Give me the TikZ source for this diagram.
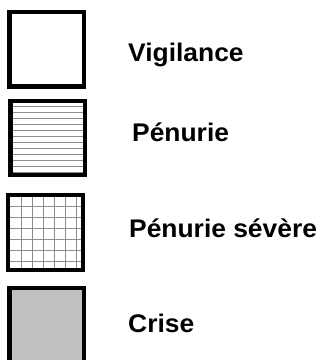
\documentclass[tikz,border=0pt]{standalone}
\usepackage{fontspec}
\setmainfont{Liberation Sans}
\usepackage{tikz}
\usetikzlibrary{positioning}

\begin{document}
\begin{tikzpicture}[
    x=1pt, y=-1pt,
    legbox/.style={draw, line width=4.3pt, minimum width=74.5pt, minimum height=74.5pt,
      inner sep=0pt, outer sep=0pt},
    legtext/.style={anchor=base west, inner sep=0pt, xscale=1.035,
      font=\fontsize{25.5}{30}\selectfont\bfseries},
    trait/.style={black!45, line width=0.9pt},
    rayure/.style={path picture={
        \foreach \k in {1,...,12}
          \draw[trait] ([yshift=-6*\k pt]path picture bounding box.north west)
            -- ([yshift=-6*\k pt]path picture bounding box.north east);}},
    quadrillage/.style={path picture={
        \foreach \k in {0,...,5} {
          \draw[trait] ([xshift=13.7pt+11*\k pt]path picture bounding box.north west)
            -- ([xshift=13.7pt+11*\k pt]path picture bounding box.south west);
          \draw[trait] ([yshift=-11.3pt-11*\k pt]path picture bounding box.north west)
            -- ([yshift=-11.3pt-11*\k pt]path picture bounding box.north east);}}},
  ]
  \useasboundingbox (0,0) rectangle (320,360);

  % Legend boxes
  \node[legbox] (vigil) at (46.75,49.35) {};
  \node[legbox, rayure] (penur) at (47.9,138.05) {};
  \node[legbox, quadrillage] (sever) at (45.5,232.5) {};
  \node[legbox, fill={rgb,255:red,192;green,192;blue,192}] (crise) at (46.75,325.3) {};

  % Labels
  \node[legtext] (tvigil) at (128,61) {Vigilance};
  \node[legtext] (tpenur) at (132,141) {Pénurie};
  \node[legtext] (tsever) at (129,237) {Pénurie sévère};
  \node[legtext] (tcrise) at (128,332) {Crise};
\end{tikzpicture}
\end{document}
